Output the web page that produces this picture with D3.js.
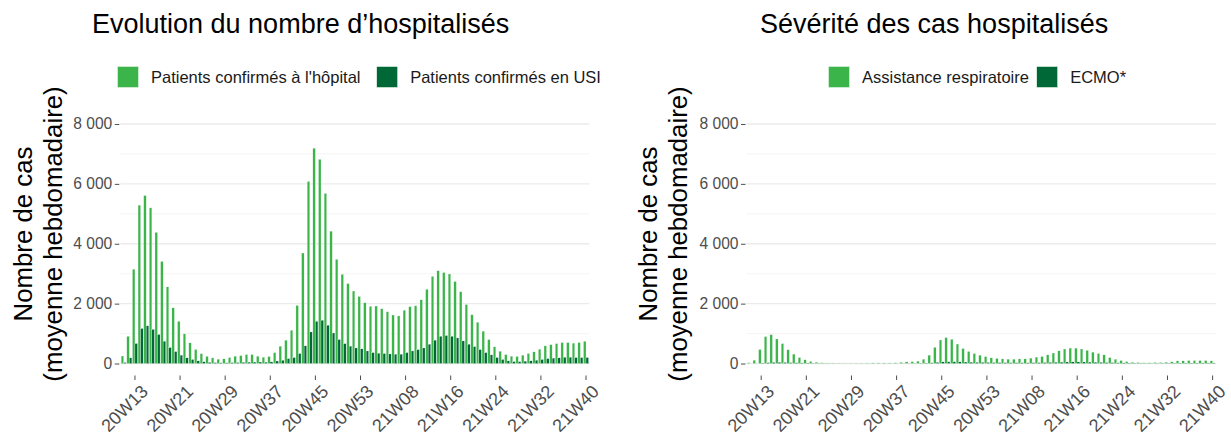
<!DOCTYPE html>
<html lang="fr">
<head>
<meta charset="utf-8">
<script src="https://cdn.jsdelivr.net/npm/d3@7/dist/d3.min.js"></script>
<style>
  html, body { margin: 0; padding: 0; background: #ffffff; }
  svg { display: block; font-family: "Liberation Sans", Arial, sans-serif; }
</style>
</head>
<body>
<svg id="chart" width="1231" height="441"></svg>
<script>
// ISO weeks from 2020-W11 to 2021-W40
const weeks = [];
for (let w = 11; w <= 53; w++) weeks.push("20W" + String(w).padStart(2, "0"));
for (let w = 1; w <= 40; w++) weeks.push("21W" + String(w).padStart(2, "0"));

const weekTicks = ["20W13", "20W21", "20W29", "20W37", "20W45", "20W53",
                   "21W08", "21W16", "21W24", "21W32", "21W40"];
const yTicks = [0, 2000, 4000, 6000, 8000];
const yMinorTicks = [1000, 3000, 5000, 7000];

// Weekly averages, 20W11 .. 21W40
const hospital = [
  250, 910, 3150, 5290, 5610, 5200, 4380, 3410, 2560, 1860,
  1410, 990, 690, 470, 330, 240, 190, 145, 155, 200,
  245, 265, 300, 300, 245, 210, 235, 365, 580, 780,
  1110, 1940, 3690, 6080, 7190, 6820, 5680, 4420, 3480, 2980,
  2670, 2420, 2240,
  2030, 1910, 1920, 1830, 1730, 1620, 1590, 1780, 1900, 1930,
  2130, 2480, 2910, 3100, 3040, 2990, 2740, 2400, 1970, 1630,
  1380, 1080, 800, 560, 410, 300, 245, 235, 280, 335,
  390, 480, 590, 630, 665, 700, 700, 680, 700, 745
];
const icu = [
  35, 190, 670, 1170, 1260, 1140, 970, 745, 535, 400,
  280, 190, 135, 90, 60, 40, 30, 25, 25, 30,
  35, 40, 45, 50, 50, 45, 55, 85, 110, 165,
  200, 335, 590, 1055, 1410, 1445, 1280, 1020, 800, 665,
  580, 520, 490,
  420, 365, 345, 335, 320, 310, 310, 365, 420, 465,
  520, 645, 780, 910, 935, 910, 855, 755, 645, 565,
  465, 365, 290, 200, 135, 90, 65, 65, 80, 90,
  110, 135, 165, 180, 190, 210, 210, 200, 200, 200
];
const respiratory = [
  25, 110, 470, 900, 965, 820, 665, 460, 315, 200,
  125, 70, 45, 25, 15, 12, 10, 8, 8, 10,
  12, 15, 20, 22, 20, 18, 25, 40, 55, 65,
  80, 145, 280, 540, 785, 865, 810, 650, 500, 405,
  335, 280, 235,
  190, 170, 155, 145, 145, 155, 155, 180, 215, 235,
  290, 350, 425, 485, 515, 515, 485, 440, 380, 335,
  290, 200, 145, 100, 65, 45, 35, 25, 25, 35,
  35, 45, 55, 90, 90, 100, 100, 100, 100, 90
];
const ecmo = [
  0, 3, 15, 30, 40, 40, 35, 30, 25, 20,
  15, 10, 8, 6, 5, 4, 4, 3, 3, 3,
  3, 3, 3, 3, 3, 3, 4, 5, 6, 8,
  10, 15, 25, 40, 55, 60, 60, 55, 50, 45,
  40, 38, 35,
  32, 30, 28, 27, 26, 26, 26, 27, 30, 33,
  38, 42, 48, 52, 55, 55, 52, 48, 44, 40,
  35, 30, 25, 20, 15, 12, 10, 8, 8, 8,
  9, 10, 12, 14, 15, 16, 16, 16, 15, 15
];

const LIGHT = "#3BB54A";
const DARK = "#006837";

const frFormat = d3.formatLocale({
  decimal: ",", thousands: " ", grouping: [3], currency: ["", " €"]
}).format(",");

const svg = d3.select("#chart");

const panels = [
  {
    title: "Evolution du nombre d\u2019hospitalisés",
    titleX: 92,
    left: 120.3, right: 589.4,
    yTitleX: [31.7, 62],
    legendX: [117.5, 376.7],
    series: [
      { name: "Patients confirmés à l'hôpital", values: hospital, color: LIGHT },
      { name: "Patients confirmés en USI", values: icu, color: DARK }
    ]
  },
  {
    title: "Sévérité des cas hospitalisés",
    titleX: 760,
    left: 746.5, right: 1216,
    yTitleX: [656.7, 687],
    legendX: [828.5, 1036.7],
    series: [
      { name: "Assistance respiratoire", values: respiratory, color: LIGHT },
      { name: "ECMO*", values: ecmo, color: DARK }
    ]
  }
];

const panelTop = 112, panelBottom = 375.5;

panels.forEach(p => {
  const g = svg.append("g");

  const x = d3.scaleBand()
    .domain(weeks)
    .range([p.left, p.right])
    .paddingInner(0)
    .paddingOuter(0.1);

  const step = x.step();
  const xSub = d3.scaleBand()
    .domain(p.series.map(s => s.name))
    .range([0.05 * step, 0.95 * step]);

  const y = d3.scaleLinear()
    .domain([-400, 8400])
    .range([panelBottom, panelTop]);

  // grid
  const grid = g.append("g");
  grid.selectAll("line.minor")
    .data(yMinorTicks)
    .join("line")
    .attr("class", "minor")
    .attr("x1", p.left).attr("x2", p.right)
    .attr("y1", d => y(d)).attr("y2", d => y(d))
    .attr("stroke", "#f1f1f1").attr("stroke-width", 0.8);
  grid.selectAll("line.major")
    .data(yTicks)
    .join("line")
    .attr("class", "major")
    .attr("x1", p.left).attr("x2", p.right)
    .attr("y1", d => y(d)).attr("y2", d => y(d))
    .attr("stroke", "#ebebeb").attr("stroke-width", 1.3);

  // bars
  p.series.forEach(s => {
    g.append("g")
      .selectAll("rect")
      .data(weeks.map((w, i) => ({ w, v: s.values[i] })))
      .join("rect")
      .attr("x", d => x(d.w) + xSub(s.name))
      .attr("width", xSub.bandwidth())
      .attr("y", d => y(Math.max(d.v, 0)))
      .attr("height", d => Math.max(0, y(0) - y(d.v)))
      .attr("fill", s.color)
      .attr("stroke", "#ffffff")
      .attr("stroke-width", 0.25);
  });

  // y axis
  const yAxis = g.append("g")
    .attr("transform", `translate(${p.left - 1},0)`)
    .call(d3.axisLeft(y).tickValues(yTicks).tickFormat(frFormat).tickSize(4.5).tickPadding(2.5));
  yAxis.select(".domain").remove();
  yAxis.selectAll(".tick line").attr("stroke", "#4d4d4d").attr("stroke-width", 1);
  yAxis.selectAll(".tick text")
    .attr("fill", "#4d4d4d")
    .style("font-size", "15.6px")
    .style("font-family", "'Liberation Sans', Arial, sans-serif");

  // x axis
  const xAxis = g.append("g")
    .attr("transform", `translate(0,${panelBottom})`)
    .call(d3.axisBottom(x).tickValues(weekTicks).tickSize(4.5));
  xAxis.select(".domain").remove();
  xAxis.selectAll(".tick line").attr("stroke", "#4d4d4d").attr("stroke-width", 1);
  xAxis.selectAll(".tick text")
    .attr("fill", "#4d4d4d")
    .attr("x", 0).attr("y", 0).attr("dy", "0.72em")
    .attr("transform", "translate(5,8) rotate(-45)")
    .style("text-anchor", "end")
    .style("font-size", "18px")
    .style("font-family", "'Liberation Sans', Arial, sans-serif");

  // y axis title (two lines)
  const yMid = 234;
  ["Nombre de cas", "(moyenne hebdomadaire)"].forEach((t, i) => {
    g.append("text")
      .attr("transform", `translate(${p.yTitleX[i]},${yMid}) rotate(-90)`)
      .attr("text-anchor", "middle")
      .attr("fill", "#000")
      .style("font-size", "25.8px")
      .text(t);
  });

  // panel title
  g.append("text")
    .attr("x", p.titleX).attr("y", 33)
    .attr("fill", "#000")
    .style("font-size", "27px")
    .text(p.title);

  // legend
  p.series.forEach((s, i) => {
    const lx = p.legendX[i];
    g.append("rect")
      .attr("x", lx).attr("y", 66.5)
      .attr("width", 21).attr("height", 21)
      .attr("fill", s.color)
      .attr("stroke", "#e8f5ea").attr("stroke-width", 0.6);
    g.append("text")
      .attr("x", lx + 33.5).attr("y", 83.3)
      .attr("fill", "#1a1a1a")
      .style("font-size", "16.5px")
      .text(s.name);
  });
});
</script>
</body>
</html>
